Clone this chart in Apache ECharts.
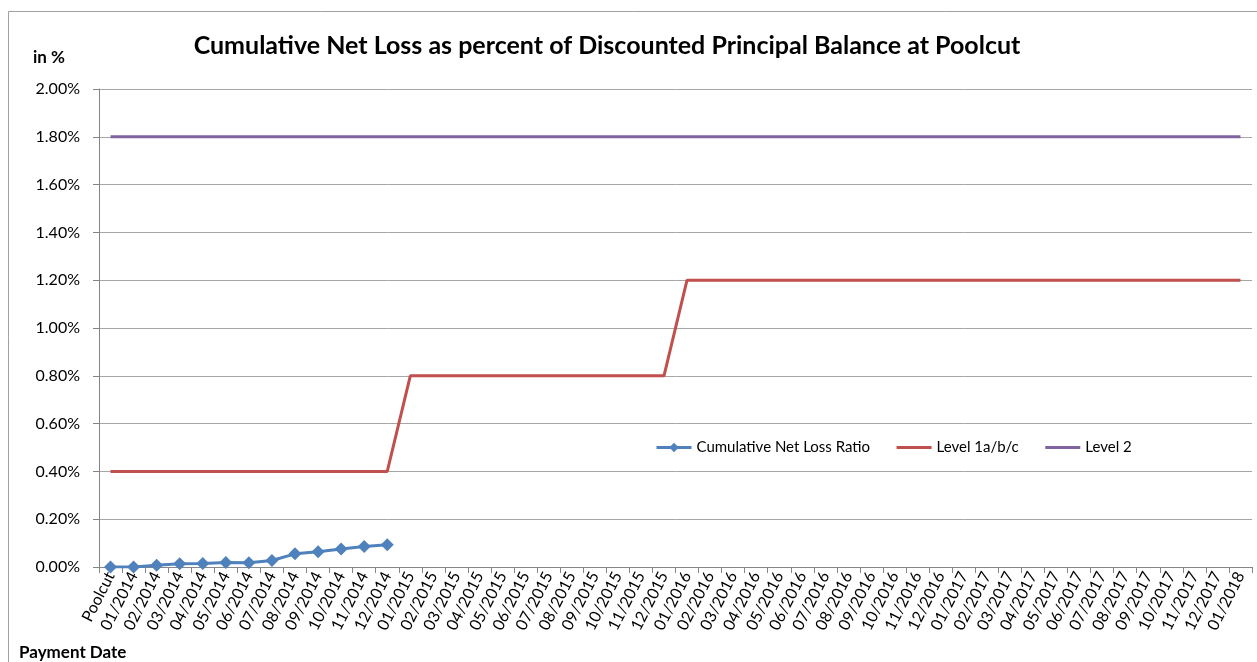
<!DOCTYPE html>
<html>
<head>
<meta charset="utf-8">
<script src="https://cdn.jsdelivr.net/npm/echarts@6/dist/echarts.min.js"></script>
<style>
  html, body { margin: 0; padding: 0; background: #fff; }
  #chart { width: 1257px; height: 662px; }
</style>
</head>
<body>
<div id="chart"></div>
<script>
// months from Poolcut to 01/2018
const categories = ["Poolcut",
  "01/2014", "02/2014", "03/2014", "04/2014", "05/2014", "06/2014", "07/2014", "08/2014", "09/2014", "10/2014", "11/2014", "12/2014",
  "01/2015", "02/2015", "03/2015", "04/2015", "05/2015", "06/2015", "07/2015", "08/2015", "09/2015", "10/2015", "11/2015", "12/2015",
  "01/2016", "02/2016", "03/2016", "04/2016", "05/2016", "06/2016", "07/2016", "08/2016", "09/2016", "10/2016", "11/2016", "12/2016",
  "01/2017", "02/2017", "03/2017", "04/2017", "05/2017", "06/2017", "07/2017", "08/2017", "09/2017", "10/2017", "11/2017", "12/2017",
  "01/2018"];

// values in percent
const netLossRatio = [0.000, 0.000, 0.007, 0.014, 0.015, 0.019, 0.018, 0.027, 0.055, 0.064, 0.075, 0.086, 0.093];

const level1 = [
  0.4, 0.4, 0.4, 0.4, 0.4, 0.4, 0.4, 0.4, 0.4, 0.4, 0.4, 0.4, 0.4,
  0.8, 0.8, 0.8, 0.8, 0.8, 0.8, 0.8, 0.8, 0.8, 0.8, 0.8, 0.8,
  1.2, 1.2, 1.2, 1.2, 1.2, 1.2, 1.2, 1.2, 1.2, 1.2, 1.2, 1.2,
  1.2, 1.2, 1.2, 1.2, 1.2, 1.2, 1.2, 1.2, 1.2, 1.2, 1.2, 1.2,
  1.2];

const level2 = [
  1.8, 1.8, 1.8, 1.8, 1.8, 1.8, 1.8, 1.8, 1.8, 1.8, 1.8, 1.8, 1.8,
  1.8, 1.8, 1.8, 1.8, 1.8, 1.8, 1.8, 1.8, 1.8, 1.8, 1.8, 1.8,
  1.8, 1.8, 1.8, 1.8, 1.8, 1.8, 1.8, 1.8, 1.8, 1.8, 1.8, 1.8,
  1.8, 1.8, 1.8, 1.8, 1.8, 1.8, 1.8, 1.8, 1.8, 1.8, 1.8, 1.8,
  1.8];

const font = "Lato, 'Open Sans', sans-serif";

var myChart = echarts.init(document.getElementById("chart"));

var option = {
  animation: false,
  textStyle: { fontFamily: font },
  title: [
    {
      text: "Cumulative Net Loss as percent of Discounted Principal Balance at Poolcut",
      left: 602, top: 28, textAlign: "center",
      textStyle: { fontSize: 25, fontWeight: "bold", color: "#000", fontFamily: font }
    },
    {
      text: "in %", left: 28, top: 44,
      textStyle: { fontSize: 17, fontWeight: "bold", color: "#000", fontFamily: font }
    },
    {
      text: "Payment Date", left: 14, top: 639,
      textStyle: { fontSize: 17, fontWeight: "bold", color: "#000", fontFamily: font }
    }
  ],
  graphic: [
    {
      type: "polyline",
      shape: { points: [[8.5, 700], [8.5, 11.5], [1300, 11.5]] },
      style: { stroke: "#a0a0a0", lineWidth: 1, fill: null }
    }
  ],
  legend: {
    left: 650, top: 435,
    itemWidth: 35, itemHeight: 12, itemGap: 25,
    lineStyle: { width: 3 },
    textStyle: { fontSize: 15, color: "#000", fontFamily: font },
    data: [
      { name: "Cumulative Net Loss Ratio" },
      { name: "Level 1a/b/c", itemStyle: { opacity: 0 } },
      { name: "Level 2", itemStyle: { opacity: 0 } }
    ]
  },
  grid: { left: 99, right: 5, top: 89, bottom: 95, containLabel: false },
  xAxis: {
    type: "category",
    data: categories,
    boundaryGap: true,
    axisLine: { lineStyle: { color: "#868686" } },
    axisTick: { show: true, length: 6, lineStyle: { color: "#868686" } },
    axisLabel: { interval: 0, rotate: 63, fontSize: 16, color: "#000", margin: 6, fontFamily: font }
  },
  yAxis: {
    type: "value",
    min: 0, max: 2, interval: 0.2,
    axisLine: { show: true, lineStyle: { color: "#868686" } },
    axisTick: { show: true, length: 6, lineStyle: { color: "#868686" } },
    splitLine: { lineStyle: { color: "#a6a6a6" } },
    axisLabel: {
      fontSize: 16, color: "#000", margin: 19, fontFamily: font,
      formatter: v => v.toFixed(2) + "%"
    }
  },
  series: [
    {
      name: "Cumulative Net Loss Ratio",
      type: "line",
      data: netLossRatio,
      color: "#4f81bd",
      symbol: "diamond",
      symbolSize: 13,
      lineStyle: { width: 3, color: "#4f81bd" },
      itemStyle: { color: "#4f81bd" }
    },
    {
      name: "Level 1a/b/c",
      type: "line",
      data: level1,
      color: "#c0504d",
      symbol: "none",
      lineStyle: { width: 3, color: "#c0504d" }
    },
    {
      name: "Level 2",
      type: "line",
      data: level2,
      color: "#8064a2",
      symbol: "none",
      lineStyle: { width: 3, color: "#8064a2" }
    }
  ]
};

myChart.setOption(option);
</script>
</body>
</html>
